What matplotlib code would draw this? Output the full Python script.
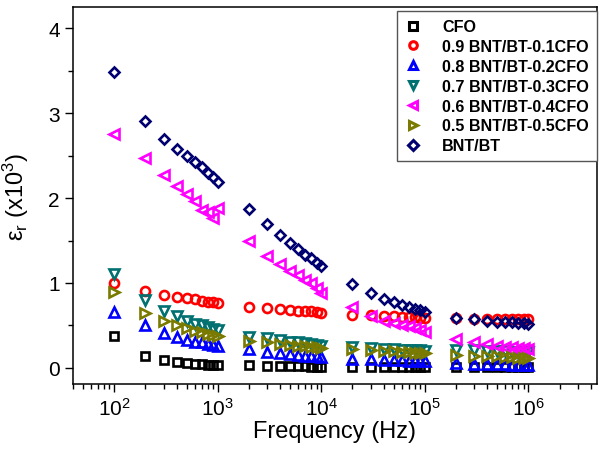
import matplotlib
matplotlib.use("Agg")
import matplotlib.pyplot as plt
from matplotlib.ticker import LogLocator, MultipleLocator, NullFormatter

plt.rcParams["font.family"] = ["Liberation Sans", "DejaVu Sans"]
plt.rcParams["mathtext.fontset"] = "custom"
plt.rcParams["mathtext.rm"] = "Liberation Sans"
plt.rcParams["mathtext.it"] = "Liberation Sans:italic"

freq = [100, 200, 300, 400, 500, 600, 700, 800, 900, 1000,
        2000, 3000, 4000, 5000, 6000, 7000, 8000, 9000, 10000,
        20000, 30000, 40000, 50000, 60000, 70000, 80000, 90000, 100000,
        200000, 300000, 400000, 500000, 600000, 700000, 800000, 900000, 1000000]

cfo = [0.37, 0.14, 0.094, 0.067, 0.055, 0.045, 0.04, 0.037, 0.035, 0.033,
       0.03, 0.025, 0.022, 0.02, 0.018, 0.017, 0.016, 0.015, 0.015,
       0.012, 0.011, 0.01, 0.01, 0.009, 0.009, 0.008, 0.008, 0.008,
       0.007, 0.006, 0.006, 0.006, 0.005, 0.005, 0.005, 0.005, 0.005]

s09 = [1.00, 0.91, 0.86, 0.83, 0.82, 0.81, 0.79, 0.78, 0.775, 0.76,
       0.72, 0.70, 0.69, 0.68, 0.675, 0.67, 0.665, 0.66, 0.65,
       0.625, 0.62, 0.61, 0.605, 0.60, 0.60, 0.595, 0.59, 0.59,
       0.585, 0.58, 0.58, 0.58, 0.575, 0.575, 0.575, 0.57, 0.57]

s08 = [0.66, 0.50, 0.41, 0.36, 0.33, 0.31, 0.30, 0.28, 0.27, 0.26,
       0.22, 0.19, 0.17, 0.16, 0.15, 0.145, 0.14, 0.135, 0.13,
       0.11, 0.10, 0.095, 0.09, 0.088, 0.085, 0.083, 0.08, 0.08,
       0.055, 0.05, 0.045, 0.043, 0.04, 0.038, 0.037, 0.036, 0.035]

s07 = [1.10, 0.80, 0.67, 0.61, 0.55, 0.52, 0.50, 0.48, 0.46, 0.45,
       0.36, 0.35, 0.33, 0.31, 0.30, 0.29, 0.28, 0.27, 0.26,
       0.24, 0.23, 0.225, 0.22, 0.215, 0.21, 0.21, 0.205, 0.20,
       0.21, 0.205, 0.20, 0.20, 0.195, 0.19, 0.19, 0.19, 0.185]

s06 = [2.76, 2.47, 2.27, 2.14, 2.05, 1.96, 1.86, 1.83, 1.77, 1.88,
       1.50, 1.32, 1.22, 1.14, 1.09, 1.04, 1.00, 0.94, 0.88,
       0.72, 0.61, 0.55, 0.53, 0.51, 0.49, 0.47, 0.45, 0.42,
       0.34, 0.31, 0.28, 0.26, 0.25, 0.24, 0.235, 0.23, 0.22]

s05 = [0.89, 0.65, 0.55, 0.50, 0.47, 0.44, 0.42, 0.40, 0.39, 0.38,
       0.32, 0.30, 0.28, 0.27, 0.26, 0.255, 0.25, 0.24, 0.23,
       0.22, 0.21, 0.20, 0.195, 0.19, 0.185, 0.18, 0.175, 0.17,
       0.15, 0.145, 0.14, 0.135, 0.13, 0.125, 0.12, 0.12, 0.115]

bntbt = [3.48, 2.91, 2.70, 2.58, 2.49, 2.42, 2.36, 2.30, 2.25, 2.19,
         1.87, 1.70, 1.57, 1.47, 1.40, 1.33, 1.29, 1.24, 1.20,
         0.99, 0.88, 0.81, 0.77, 0.74, 0.72, 0.69, 0.68, 0.66,
         0.59, 0.57, 0.555, 0.545, 0.54, 0.535, 0.53, 0.525, 0.52]

series = [
    ("CFO", cfo, "s", "black"),
    ("0.9 BNT/BT-0.1CFO", s09, "o", "red"),
    ("0.8 BNT/BT-0.2CFO", s08, "^", "#0000ff"),
    ("0.7 BNT/BT-0.3CFO", s07, "v", "#007070"),
    ("0.6 BNT/BT-0.4CFO", s06, "<", "#ff00ff"),
    ("0.5 BNT/BT-0.5CFO", s05, ">", "#7a7a00"),
    ("BNT/BT", bntbt, "D", "#000070"),
]

fig = plt.figure(figsize=(5.99, 4.52), dpi=100)
ax = fig.add_axes([73 / 599, 1 - 385 / 452, 524 / 599, 377 / 452])

for label, vals, m, c in series:
    ms = 5.5 if m in ("D", "s") else 6.5
    ax.plot(freq, vals, linestyle="none", marker=m, markersize=ms,
            markerfacecolor="none", markeredgecolor=c, markeredgewidth=1.9,
            label=label)

ax.set_xscale("log")
ax.set_xlim(40, 4.6e6)
ax.set_ylim(-0.19, 4.25)
ax.xaxis.set_major_locator(LogLocator(base=10, numticks=10))
ax.xaxis.set_minor_locator(LogLocator(base=10, subs=range(2, 10), numticks=20))
ax.xaxis.set_minor_formatter(NullFormatter())
ax.yaxis.set_major_locator(MultipleLocator(1))
ax.yaxis.set_minor_locator(MultipleLocator(0.5))

ax.tick_params(which="major", direction="out", length=6, width=1, labelsize=15)
ax.tick_params(which="minor", direction="out", length=3.5, width=1)
ax.tick_params(top=False, right=False, which="both")
for sp in ax.spines.values():
    sp.set_linewidth(1.1)

ax.set_xlabel("Frequency (Hz)", fontsize=17, labelpad=1)
ax.set_ylabel(r"ε$_\mathrm{r}$ (x10$^3$)", fontsize=17, labelpad=12)

leg = ax.legend(loc="upper right", bbox_to_anchor=(1.0, 0.989), borderaxespad=0,
                fancybox=False, edgecolor="#555555", framealpha=1,
                handlelength=1.0, handletextpad=1.3, labelspacing=0.3,
                borderpad=0.5, prop={"weight": "bold", "size": 11.6})
for h in leg.legend_handles:
    h.set_markersize(5.5)
    h.set_markeredgewidth(2.2)
leg.get_frame().set_linewidth(1.0)

fig.savefig("out.png", dpi=100)
